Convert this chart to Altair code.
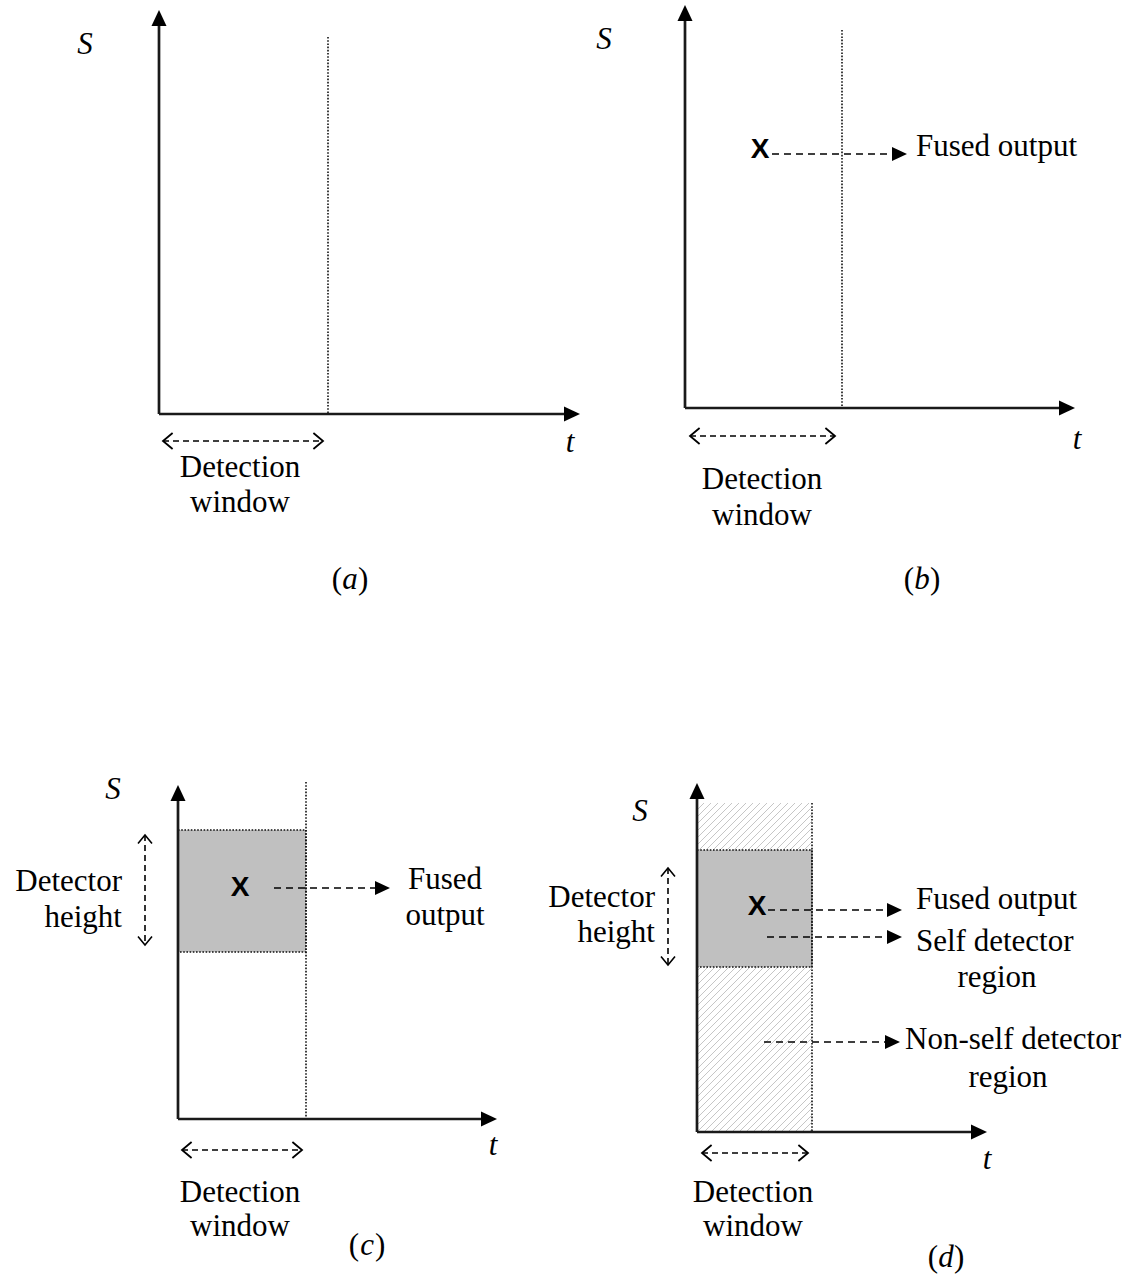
import altair as alt
import pandas as pd

W, H = 1138, 1285

# ---- the four panels (a)-(d): axis geometry ----
origin_x = [159, 685, 178, 697]
origin_y = [414, 408, 1119, 1132]
axis_top = [10, 5, 785, 783]
axis_right = [580, 1075, 497, 987]

# dotted right edge of the detection window
window_x = [328, 842, 306, 812]
window_top = [37, 30, 782, 803]

# "Detection window" double arrows and labels
dw_left = [163, 690, 182, 702]
dw_right = [323, 835, 302, 808]
dw_y = [441, 436, 1150, 1153]
dw_label_x = [240, 762, 240, 753]
dw_label_y1 = [468, 480, 1193, 1193]
dw_label_y2 = [503, 516, 1227, 1227]

# axis names
s_x = [85, 604, 113, 640]
s_y = [45, 40, 790, 812]
t_x = [570, 1077, 493, 987]
t_y = [443, 440, 1146, 1160]

# panel captions
cap_letter = ["a", "b", "c", "d"]
cap_x = [350, 922, 367, 946]
cap_y = [580, 580, 1246, 1258]

# detector (self) region in panels (c) and (d)
det_x0 = [178, 697]
det_x1 = [306, 812]
det_y0 = [830, 850]
det_y1 = [952, 967]

# non-self (hatched) region in panel (d)
ns_x0, ns_x1, ns_y0, ns_y1 = 697, 812, 803, 1132

# "Detector height" double arrows and labels
dh_x = [145, 668]
dh_top = [835, 868]
dh_bottom = [945, 965]
dh_label_right = [122, 655]
dh_label_y1 = [882, 898]
dh_label_y2 = [918, 933]

# fused output markers
mark_x = [760, 240, 757]
mark_y = [150, 888, 907]

# dashed pointer arrows
ptr_x0 = [772, 274, 768, 767, 764]
ptr_x1 = [907, 390, 902, 902, 900]
ptr_y = [154, 888, 910, 937, 1042]

# pointer labels
lab_text = ["Fused output", "Fused", "output", "Fused output", "Self detector",
            "region", "Non-self detector", "region"]
lab_x = [916, 445, 445, 916, 916, 997, 905, 1008]
lab_y = [147, 880, 916, 900, 942, 978, 1040, 1078]
lab_align = ["left", "center", "center", "left", "left", "center", "left", "center"]

SERIF = "Liberation Serif"
SANS = "Liberation Sans"
FS = 31

# arrow head and chevron outlines (tip at the origin)
HEAD_RIGHT = "M0,0L-2,-0.94L-2,0.94Z"
HEAD_UP = "M0,0L-0.94,2L0.94,2Z"
OPEN_LEFT = "M1.2,-1L0,0L1.2,1"
OPEN_RIGHT = "M-1.2,-1L0,0L-1.2,1"
OPEN_UP = "M-1,1.2L0,0L1,1.2"
OPEN_DOWN = "M-1,-1.2L0,0L1,-1.2"

X = alt.X("x:Q", scale=alt.Scale(domain=[0, W]), axis=None)
Y = alt.Y("y:Q", scale=alt.Scale(domain=[0, H], reverse=True), axis=None)
X2 = alt.X2("x2:Q")
Y2 = alt.Y2("y2:Q")


def segs(rows):
    return pd.DataFrame(rows, columns=["x", "y", "x2", "y2"])


def rules(df, **style):
    return alt.Chart(df).mark_rule(**style).encode(x=X, y=Y, x2=X2, y2=Y2)


def points(df, shape, size, filled, **style):
    return alt.Chart(df).mark_point(shape=shape, size=size, filled=filled,
                                    opacity=1, color="black", **style).encode(x=X, y=Y)


def texts(df, **style):
    return alt.Chart(df).mark_text(color="black", **style).encode(
        x=X, y=Y, text="text:N")


layers = []

# hatched non-self region (thin diagonal strokes clipped to the window)
hatch = []
step = 7
c = ns_x0 + ns_y0
while c <= ns_x1 + ns_y1:
    xa = max(ns_x0, c - ns_y1)
    xb = min(ns_x1, c - ns_y0)
    if xb > xa:
        hatch.append([xa, c - xa, xb, c - xb])
    c += step
layers.append(rules(segs(hatch), color="#c6c6c6", strokeWidth=1))

# self detector boxes
det = pd.DataFrame({"x": det_x0, "x2": det_x1, "y": det_y0, "y2": det_y1})
layers.append(alt.Chart(det).mark_rect(color="#c0c0c0", stroke="#111111",
                                       strokeWidth=1.6, strokeDash=[1.6, 1.6])
              .encode(x=X, y=Y, x2=X2, y2=Y2))

# dotted detection window edges
win = segs([[window_x[i], window_top[i], window_x[i], origin_y[i]] for i in range(4)])
layers.append(rules(win, color="#111111", strokeWidth=1.6, strokeDash=[1.6, 1.6]))

# axes
ax = segs([[origin_x[i], axis_top[i] + 12, origin_x[i], origin_y[i]] for i in range(4)]
          + [[origin_x[i], origin_y[i], axis_right[i] - 12, origin_y[i]] for i in range(4)])
layers.append(rules(ax, color="#1a1a1a", strokeWidth=2.7))
layers.append(points(pd.DataFrame({"x": origin_x, "y": axis_top}), HEAD_UP, 256, True))
layers.append(points(pd.DataFrame({"x": axis_right, "y": origin_y}), HEAD_RIGHT, 256, True))

# detection window double arrows
dw = segs([[dw_left[i], dw_y[i], dw_right[i], dw_y[i]] for i in range(4)])
layers.append(rules(dw, color="black", strokeWidth=1.6, strokeDash=[6, 4]))
layers.append(points(pd.DataFrame({"x": dw_left, "y": dw_y}), OPEN_LEFT, 256, False,
                     strokeWidth=1.8))
layers.append(points(pd.DataFrame({"x": dw_right, "y": dw_y}), OPEN_RIGHT, 256, False,
                     strokeWidth=1.8))

# detector height double arrows
dh = segs([[dh_x[i], dh_top[i], dh_x[i], dh_bottom[i]] for i in range(2)])
layers.append(rules(dh, color="black", strokeWidth=1.6, strokeDash=[6, 4]))
layers.append(points(pd.DataFrame({"x": dh_x, "y": dh_top}), OPEN_UP, 196, False,
                     strokeWidth=1.6))
layers.append(points(pd.DataFrame({"x": dh_x, "y": dh_bottom}), OPEN_DOWN, 196, False,
                     strokeWidth=1.6))

# dashed pointers with filled heads
ptr = segs([[ptr_x0[i], ptr_y[i], ptr_x1[i] - 12, ptr_y[i]] for i in range(len(ptr_y))])
layers.append(rules(ptr, color="black", strokeWidth=1.6, strokeDash=[7, 5]))
layers.append(points(pd.DataFrame({"x": ptr_x1, "y": ptr_y}), HEAD_RIGHT, 225, True))

# fused output markers
layers.append(texts(pd.DataFrame({"x": mark_x, "y": mark_y, "text": ["X"] * 3}),
                    font=SANS, fontSize=28, fontWeight="bold", align="center",
                    baseline="middle"))

# axis names
layers.append(texts(pd.DataFrame({"x": s_x, "y": s_y, "text": ["S"] * 4}),
                    font=SERIF, fontSize=FS, fontStyle="italic", align="center",
                    baseline="middle"))
layers.append(texts(pd.DataFrame({"x": t_x, "y": t_y, "text": ["t"] * 4}),
                    font=SERIF, fontSize=FS, fontStyle="italic", align="center",
                    baseline="middle"))

# detection window labels
dwl = pd.DataFrame({"x": dw_label_x * 2, "y": dw_label_y1 + dw_label_y2,
                    "text": ["Detection"] * 4 + ["window"] * 4})
layers.append(texts(dwl, font=SERIF, fontSize=FS, align="center", baseline="middle"))

# detector height labels
dhl = pd.DataFrame({"x": dh_label_right * 2, "y": dh_label_y1 + dh_label_y2,
                    "text": ["Detector"] * 2 + ["height"] * 2})
layers.append(texts(dhl, font=SERIF, fontSize=FS, align="right", baseline="middle"))

# pointer labels
lab = pd.DataFrame({"x": lab_x, "y": lab_y, "text": lab_text, "al": lab_align})
for a in ["left", "center"]:
    layers.append(texts(lab[lab["al"] == a], font=SERIF, fontSize=FS, align=a,
                        baseline="middle"))

# captions (a)-(d)
layers.append(texts(pd.DataFrame({"x": [v - 8 for v in cap_x], "y": cap_y,
                                  "text": ["("] * 4}),
                    font=SERIF, fontSize=FS, align="right", baseline="middle"))
layers.append(texts(pd.DataFrame({"x": cap_x, "y": cap_y, "text": cap_letter}),
                    font=SERIF, fontSize=FS, fontStyle="italic", align="center",
                    baseline="middle"))
layers.append(texts(pd.DataFrame({"x": [v + 8 for v in cap_x], "y": cap_y,
                                  "text": [")"] * 4}),
                    font=SERIF, fontSize=FS, align="left", baseline="middle"))

chart = alt.layer(*layers).properties(
    width=W, height=H, padding=0, autosize=alt.AutoSizeParams(type="none"),
    background="white"
).configure_view(stroke=None)

chart.save("out.html", embed_options={"renderer": "svg", "actions": False})
